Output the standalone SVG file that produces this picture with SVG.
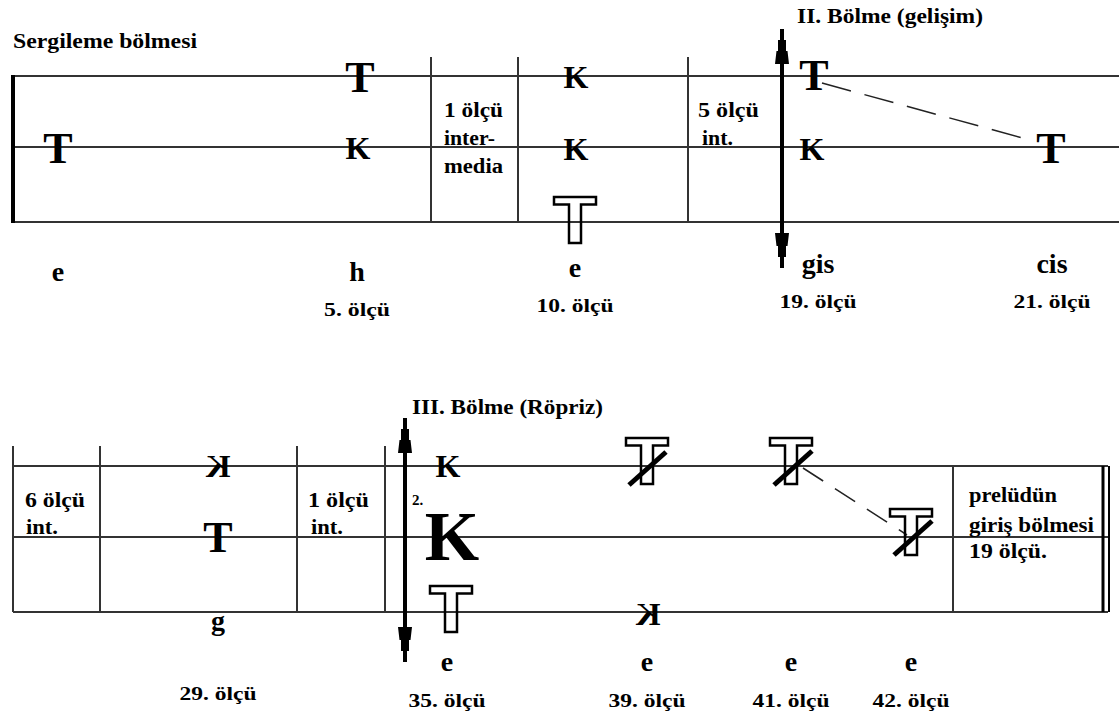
<svg xmlns="http://www.w3.org/2000/svg" width="1119" height="716" viewBox="0 0 1119 716">
<style>
.ln{stroke:#333;stroke-width:2;fill:none}
.bar{stroke:#000;stroke-width:4;fill:none}
.arr{stroke:#000;stroke-width:4;fill:none}
.dash{stroke:#222;stroke-width:1.5;fill:none;stroke-dasharray:30 14}
.t{font-family:"Liberation Serif","Times New Roman","DejaVu Serif",serif;font-weight:bold;fill:#000}
.lbl{font-size:20px}
.note{font-size:28px;text-anchor:middle}
.ms{font-size:19px;text-anchor:middle}
.bigT{font-size:44px;text-anchor:middle}
.k{font-size:32px;text-anchor:middle}
.ot{fill:none;stroke:#000;stroke-width:2.5}
.slash{stroke:#000;stroke-width:5}
</style>
<defs>
<marker id="ah" markerUnits="userSpaceOnUse" markerWidth="36" markerHeight="16" viewBox="0 -8 36 16" refX="35" refY="0" orient="auto-start-reverse">
<path d="M35,0 L31,-2 L24,-2 L24,-4 L13,-4 L13,-5.5 L0,-7 L0,7 L13,5.5 L13,4 L24,4 L24,2 L31,2 Z" fill="#000"/>
</marker>
<path id="otee" d="M-21,0 H21 V7.5 H6 V46 H-6 V7.5 H-21 Z"/>
</defs>

<g id="staff1">
<line class="ln" x1="13" y1="76" x2="1119" y2="76"/>
<line class="ln" x1="13" y1="147" x2="1119" y2="147"/>
<line class="ln" x1="13" y1="222" x2="1119" y2="222"/>
<line class="bar" x1="13" y1="75" x2="13" y2="223"/>
<line class="ln" x1="431" y1="57" x2="431" y2="222"/>
<line class="ln" x1="518" y1="57" x2="518" y2="222"/>
<line class="ln" x1="688" y1="57" x2="688" y2="222"/>
</g>

<g id="staff2">
<line class="ln" x1="13" y1="466" x2="1108" y2="466"/>
<line class="ln" x1="13" y1="537" x2="1108" y2="537"/>
<line class="ln" x1="13" y1="612" x2="1108" y2="612"/>
<line class="ln" x1="13" y1="446" x2="13" y2="612"/>
<line class="ln" x1="100" y1="446" x2="100" y2="612"/>
<line class="ln" x1="297" y1="446" x2="297" y2="612"/>
<line class="ln" x1="385" y1="446" x2="385" y2="612"/>
<line class="ln" x1="953" y1="466" x2="953" y2="612"/>
<line stroke="#000" stroke-width="3" x1="1103" y1="466" x2="1103" y2="612"/>
<line stroke="#000" stroke-width="2" x1="1109" y1="466" x2="1109" y2="612"/>
</g>

<g id="connectors">
<line class="arr" x1="782" y1="29" x2="782" y2="268" marker-start="url(#ah)" marker-end="url(#ah)"/>
<line class="arr" x1="405" y1="418" x2="405" y2="662" marker-start="url(#ah)" marker-end="url(#ah)"/>
<line class="dash" x1="822" y1="83" x2="1030" y2="140"/>
<line class="dash" x1="803" y1="468" x2="907" y2="535" style="stroke-dasharray:24 14"/>
</g>

<g id="titles">
<text class="t lbl" x="13" y="48" textLength="184" lengthAdjust="spacingAndGlyphs">Sergileme bölmesi</text>
<text class="t lbl" x="797" y="23" textLength="186" lengthAdjust="spacingAndGlyphs">II. Bölme (gelişim)</text>
<text class="t lbl" x="412" y="414" textLength="191" lengthAdjust="spacingAndGlyphs">III. Bölme (Röpriz)</text>
</g>

<g id="cells">
<text class="t lbl" x="444" y="117" textLength="59" lengthAdjust="spacingAndGlyphs">1 ölçü</text>
<text class="t lbl" x="444" y="145" textLength="51" lengthAdjust="spacingAndGlyphs">inter-</text>
<text class="t lbl" x="444" y="173" textLength="59" lengthAdjust="spacingAndGlyphs">media</text>
<text class="t lbl" x="698" y="117" textLength="61" lengthAdjust="spacingAndGlyphs">5 ölçü</text>
<text class="t lbl" x="702" y="145" textLength="31" lengthAdjust="spacingAndGlyphs">int.</text>
<text class="t lbl" x="25" y="507" textLength="60" lengthAdjust="spacingAndGlyphs">6 ölçü</text>
<text class="t lbl" x="26" y="534" textLength="32" lengthAdjust="spacingAndGlyphs">int.</text>
<text class="t lbl" x="308" y="507" textLength="61" lengthAdjust="spacingAndGlyphs">1 ölçü</text>
<text class="t lbl" x="311" y="534" textLength="32" lengthAdjust="spacingAndGlyphs">int.</text>
<text class="t lbl" x="969" y="502" textLength="88" lengthAdjust="spacingAndGlyphs">prelüdün</text>
<text class="t lbl" x="969" y="532" textLength="125" lengthAdjust="spacingAndGlyphs">giriş bölmesi</text>
<text class="t lbl" x="969" y="558" textLength="78" lengthAdjust="spacingAndGlyphs">19 ölçü.</text>
</g>

<g id="symbols1">
<text class="t bigT" x="58" y="163">T</text>
<text class="t bigT" x="360" y="92">T</text>
<text class="t k" x="358" y="159">K</text>
<text class="t k" x="576" y="88">K</text>
<text class="t k" x="576" y="160">K</text>
<use href="#otee" class="ot" x="575" y="197"/>
<text class="t bigT" x="814" y="90">T</text>
<text class="t k" x="812" y="160">K</text>
<text class="t bigT" x="1051" y="163">T</text>
</g>

<g id="symbols2">
<text class="t k" transform="translate(218,477) scale(-1,1)" x="0" y="0">K</text>
<text class="t bigT" x="218" y="552">T</text>
<text class="t k" x="448" y="477">K</text>
<text class="t" x="412" y="505" font-size="15">2.</text>
<text class="t" x="452" y="560" font-size="70" text-anchor="middle">K</text>
<use href="#otee" class="ot" x="451" y="586"/>
<g transform="translate(647,438)"><use href="#otee" class="ot"/><line class="slash" x1="-18" y1="47" x2="19" y2="14"/></g>
<g transform="translate(791,438)"><use href="#otee" class="ot"/><line class="slash" x1="-17" y1="47" x2="21" y2="13"/></g>
<g transform="translate(911,509)"><use href="#otee" class="ot"/><line class="slash" x1="-17" y1="46" x2="21" y2="12"/></g>
<text class="t k" transform="translate(648,625) scale(-1,1)" x="0" y="0">K</text>
</g>

<g id="labels1">
<text class="t note" x="58" y="281">e</text>
<text class="t note" x="357" y="281">h</text>
<text class="t note" x="575" y="277">e</text>
<text class="t note" x="818" y="273">gis</text>
<text class="t note" x="1052" y="273">cis</text>
<text class="t ms" x="357" y="316" textLength="66" lengthAdjust="spacingAndGlyphs">5. ölçü</text>
<text class="t ms" x="575" y="312" textLength="77" lengthAdjust="spacingAndGlyphs">10. ölçü</text>
<text class="t ms" x="818" y="308" textLength="77" lengthAdjust="spacingAndGlyphs">19. ölçü</text>
<text class="t ms" x="1052" y="308" textLength="77" lengthAdjust="spacingAndGlyphs">21. ölçü</text>
</g>

<g id="labels2">
<text class="t note" x="218" y="630">g</text>
<text class="t ms" x="218" y="700" textLength="77" lengthAdjust="spacingAndGlyphs">29. ölçü</text>
<text class="t note" x="447" y="671">e</text>
<text class="t note" x="647" y="671">e</text>
<text class="t note" x="791" y="671">e</text>
<text class="t note" x="911" y="671">e</text>
<text class="t ms" x="447" y="707" textLength="77" lengthAdjust="spacingAndGlyphs">35. ölçü</text>
<text class="t ms" x="647" y="707" textLength="77" lengthAdjust="spacingAndGlyphs">39. ölçü</text>
<text class="t ms" x="791" y="707" textLength="77" lengthAdjust="spacingAndGlyphs">41. ölçü</text>
<text class="t ms" x="911" y="707" textLength="77" lengthAdjust="spacingAndGlyphs">42. ölçü</text>
</g>
</svg>
